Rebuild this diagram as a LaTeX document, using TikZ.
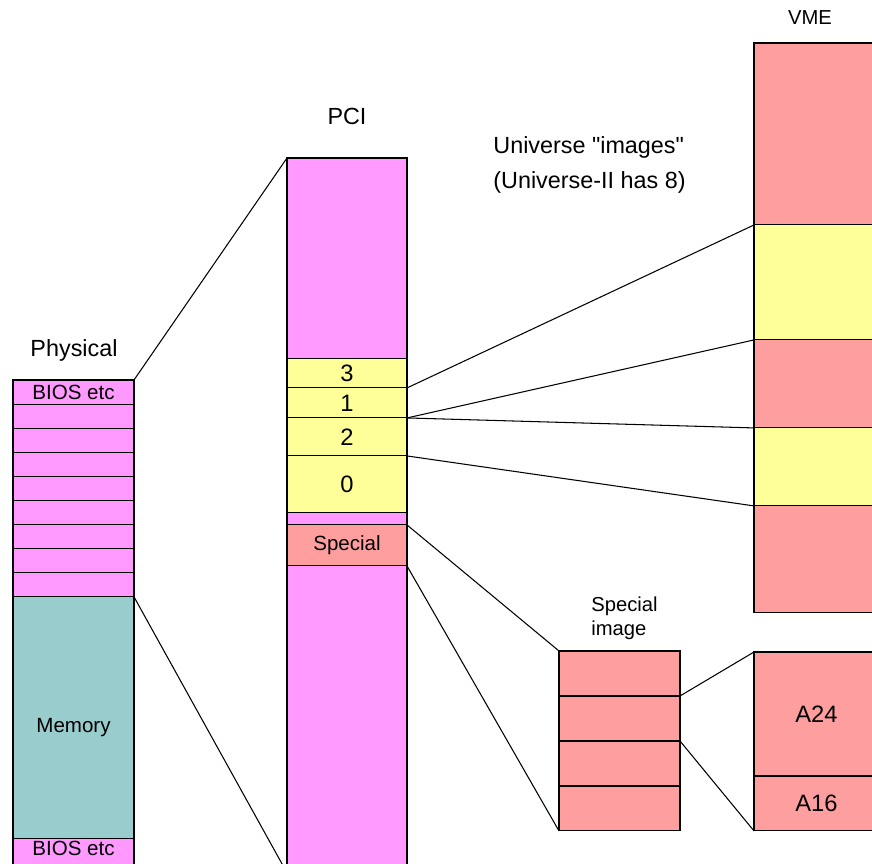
\documentclass[tikz,border=0pt]{standalone}
\usepackage{fontspec}
\setmainfont{Liberation Sans}
\newfontfamily\plainquotes{Liberation Sans}
\usetikzlibrary{positioning}
\definecolor{memPink}{HTML}{FF99FF}
\definecolor{imgYellow}{HTML}{FFFF99}
\definecolor{vmeRed}{HTML}{FF9E9E}
\definecolor{memTeal}{HTML}{99CCCC}

\begin{document}
\begin{tikzpicture}[x=0.02cm,y=-0.02cm,line width=0.6pt]
	\def \colw{2.42cm}
	\tikzstyle{blk}=[rectangle,draw=black,inner sep=0pt,outer sep=0pt,minimum width=\colw,font=\fontsize{11.7}{14}\selectfont]
	\tikzstyle{ph-node}=[blk,fill=memPink,minimum height=0.482cm]
	\tikzstyle{pci-node}=[blk,fill=memPink]
	\tikzstyle{win-node}=[blk,fill=imgYellow,font=\fontsize{13.5}{16}\selectfont]
	\tikzstyle{vme-node}=[blk,fill=vmeRed,minimum width=2.5cm]
	\tikzstyle{si-node}=[blk,fill=vmeRed,minimum height=0.9cm]
	\tikzstyle{title}=[font=\fontsize{13.3}{19}\selectfont]
	\tikzstyle{small-title}=[font=\fontsize{11.5}{13.6}\selectfont]
	\useasboundingbox (0,0) rectangle (872,864);
	\clip (0,0) rectangle (872,864);

	% titles
	\node[title] (ph-label) at (74,350) {Physical};
	\node[title] (pci-label) at (347,116) {PCI};
	\node[small-title] (vme-label) at (810,18) {VME};
	\node[title,align=left,anchor=west,font=\fontsize{13.3}{19.5}\plainquotes] (img-label) at (487,165) {Universe "images"\\(Universe-II has 8)};
	\node[small-title,align=left,anchor=west] (si-label) at (585,618) {Special\\image};

	% physical memory
	\node[ph-node,anchor=north] (ph0) at (73.5,380) {BIOS etc};
	\node[ph-node,below=0pt of ph0] (ph1) {};
	\node[ph-node,below=0pt of ph1] (ph2) {};
	\node[ph-node,below=0pt of ph2] (ph3) {};
	\node[ph-node,below=0pt of ph3] (ph4) {};
	\node[ph-node,below=0pt of ph4] (ph5) {};
	\node[ph-node,below=0pt of ph5] (ph6) {};
	\node[ph-node,below=0pt of ph6] (ph7) {};
	\node[ph-node,below=0pt of ph7] (ph8) {};
	\node[blk,fill=memTeal,minimum height=4.84cm,below=0pt of ph8,
		label={[font=\fontsize{11.7}{14}\selectfont,yshift=-5.5pt]center:Memory}] (mem) {};
	\node[ph-node,minimum height=0.6cm,below=0pt of mem,text depth=6pt] (ph9) {BIOS etc};

	% PCI space
	\node[pci-node,minimum width=2.4cm,minimum height=4.02cm,anchor=north] (pci0) at (347,158) {};
	\node[win-node,minimum width=2.4cm,minimum height=0.58cm,below=0pt of pci0] (w3) {3};
	\node[win-node,minimum width=2.4cm,minimum height=0.6cm,below=0pt of w3] (w1) {1};
	\node[win-node,minimum width=2.4cm,minimum height=0.76cm,below=0pt of w1] (w2) {2};
	\node[win-node,minimum width=2.4cm,minimum height=1.14cm,below=0pt of w2] (w0) {0};
	\node[pci-node,minimum width=2.4cm,minimum height=0.24cm,below=0pt of w0] (pci1) {};
	\node[blk,fill=vmeRed,minimum width=2.4cm,minimum height=0.82cm,below=0pt of pci1] (spec) {Special};
	\node[pci-node,minimum width=2.4cm,minimum height=6.14cm,below=0pt of spec] (pci2) {};

	% VME space
	\node[vme-node,minimum height=3.64cm,anchor=north west] (vme0) at (754,43) {};
	\node[vme-node,fill=imgYellow,minimum height=2.3cm,below=0pt of vme0] (vme1) {};
	\node[vme-node,minimum height=1.76cm,below=0pt of vme1] (vme2) {};
	\node[vme-node,fill=imgYellow,minimum height=1.56cm,below=0pt of vme2] (vme3) {};
	\node[vme-node,minimum height=2.14cm,below=0pt of vme3] (vme4) {};

	\node[vme-node,minimum height=2.48cm,anchor=north west,font=\fontsize{13.5}{16}\selectfont] (a24) at (754,652) {A24};
	\node[vme-node,minimum height=1.1cm,below=0pt of a24,font=\fontsize{13.5}{16}\selectfont] (a16) {A16};

	% special image
	\node[si-node,anchor=north] (si0) at (619.5,651) {};
	\node[si-node,below=0pt of si0] (si1) {};
	\node[si-node,below=0pt of si1] (si2) {};
	\node[si-node,below=0pt of si2] (si3) {};

	\path	(ph0.north east)	edge	(pci0.north west)
		(ph8.south east)	edge	(pci2.south west)
		(w3.south east)	edge	(vme1.north west)
		(w1.south east)	edge	(vme1.south west)
		(w1.south east)	edge	(vme3.north west)
		(w2.south east)	edge	(vme3.south west)
		(spec.north east)	edge	(si0.north west)
		(spec.south east)	edge	(si3.south west)
		(si0.south east)	edge	(a24.north west)
		(si1.south east)	edge	(a16.south west);
\end{tikzpicture}
\end{document}
